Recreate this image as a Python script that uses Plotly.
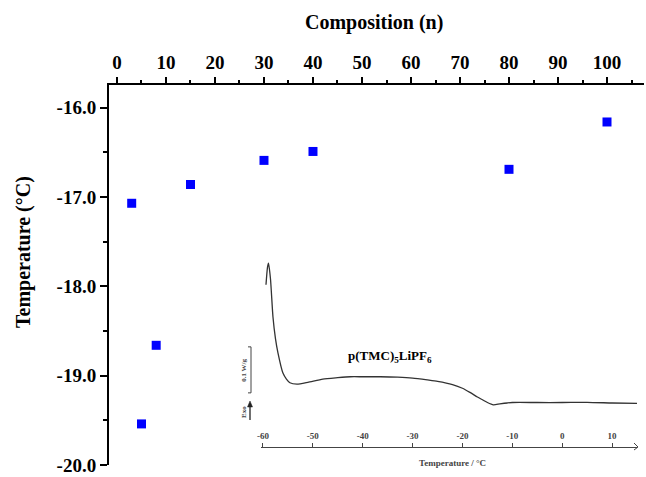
import plotly.graph_objects as go

# Glass transition temperature versus composition n of p(TMC)nLiPF6
composition_n = [3, 5, 8, 15, 30, 40, 80, 100]
tg_celsius = [-17.07, -19.54, -18.66, -16.86, -16.59, -16.49, -16.69, -16.16]

x_ticks = list(range(0, 101, 10))
y_ticks = [-16.0, -17.0, -18.0, -19.0, -20.0]

# DSC trace of p(TMC)5LiPF6 (inset): temperature in deg C, heat flow in W/g
dsc_temp = [-59.4, -59.1, -58.9, -58.5, -58.0, -57.5, -57.0, -56.0, -55.3, -54.6,
            -53.2, -51.0, -48.0, -45.0, -42.5, -40.0, -36.5, -33.0, -30.0, -27.0,
            -25.0, -22.0, -20.0, -18.5, -17.0, -16.0, -15.0, -13.8, -12.5, -11.0,
            -10.0, -5.0, 0.0, 5.0, 10.0, 15.0]
dsc_heat_flow = [0.257, 0.295, 0.304, 0.270, 0.187, 0.140, 0.109, 0.065, 0.052, 0.044,
                 0.041, 0.045, 0.052, 0.055, 0.057, 0.057, 0.057, 0.056, 0.054, 0.050,
                 0.047, 0.040, 0.032, 0.023, 0.013, 0.007, 0.001, -0.004, -0.002, 0.000,
                 0.001, 0.001, 0.001, 0.0015, 0.000, -0.001]
dsc_ticks = list(range(-60, 11, 10))
scale_bar_base = 0.022
scale_bar_span = 0.1

W, H = 646, 477


def fx(p):
    return p / W


def fy(p):
    return 1 - p / H


SERIF = "Liberation Serif, Times New Roman, serif"

fig = go.Figure()

fig.add_trace(go.Scatter(
    x=composition_n, y=tg_celsius, mode="markers",
    marker=dict(symbol="square", size=9, color="#0000ff", line=dict(width=0)),
    xaxis="x", yaxis="y", showlegend=False,
))

fig.add_trace(go.Scatter(
    x=dsc_temp, y=dsc_heat_flow, mode="lines",
    line=dict(color="#333333", width=1.3, shape="spline", smoothing=0.6),
    xaxis="x2", yaxis="y2", showlegend=False,
))

axis_font = dict(family=SERIF, size=19, color="black")

fig.update_layout(
    template="none",
    width=W, height=H,
    margin=dict(l=0, r=0, t=0, b=0, pad=0, autoexpand=False),
    paper_bgcolor="white", plot_bgcolor="rgba(0,0,0,0)",
    font=dict(family=SERIF),
    showlegend=False,
    xaxis=dict(
        domain=[fx(109), fx(644)], range=[-1.63, 107.55], side="top",
        anchor="y", showgrid=False, zeroline=False, automargin=False,
        showline=True, linecolor="black", linewidth=2,
        ticks="outside", ticklen=6, tickwidth=2, tickcolor="black",
        tickvals=x_ticks, ticktext=[f"<b>{v}</b>" for v in x_ticks],
        tickfont=axis_font,
        minor=dict(dtick=5, tick0=0, ticks="outside", ticklen=3, tickwidth=2,
                   tickcolor="black", showgrid=False),
    ),
    yaxis=dict(
        domain=[fy(465), fy(85)], range=[-20.0, -15.746],
        anchor="x", showgrid=False, zeroline=False, automargin=False,
        showline=True, linecolor="black", linewidth=2,
        ticks="outside", ticklen=7, tickwidth=2, tickcolor="black",
        tickvals=y_ticks, ticktext=[f"<b>{v:.1f}</b>" for v in y_ticks],
        tickfont=axis_font,
        minor=dict(dtick=0.5, tick0=-20, ticks="outside", ticklen=4, tickwidth=2,
                   tickcolor="black", showgrid=False),
    ),
    xaxis2=dict(
        domain=[fx(261), fx(637)], range=[-60.4, 15.0],
        anchor="free", position=fy(447), side="top",
        showgrid=False, zeroline=False, automargin=False,
        showline=True, linecolor="#444444", linewidth=1.2,
        ticks="outside", ticklen=4, tickwidth=1, tickcolor="#444444",
        tickvals=dsc_ticks, ticktext=[f"<b>{v}</b>" for v in dsc_ticks],
        tickfont=dict(family=SERIF, size=9, color="#444444"),
    ),
    yaxis2=dict(
        domain=[fy(447), fy(255)], range=[-0.0957, 0.3217],
        anchor="x2", visible=False, showgrid=False, zeroline=False, automargin=False,
    ),
)

annotations = [
    dict(text="<b>Composition (n)</b>", x=fx(374), y=fy(22), xref="paper", yref="paper",
         showarrow=False, font=dict(family=SERIF, size=20, color="black"),
         xanchor="center", yanchor="middle"),
    dict(text="<b>Temperature (°C)</b>", x=fx(23), y=fy(252), xref="paper", yref="paper",
         showarrow=False, textangle=-90, font=dict(family=SERIF, size=20, color="black"),
         xanchor="center", yanchor="middle"),
    dict(text="<b>Temperature / °C</b>", x=fx(452), y=fy(463), xref="paper", yref="paper",
         showarrow=False, font=dict(family=SERIF, size=9, color="#444444"),
         xanchor="center", yanchor="middle"),
    dict(text="<b>p(TMC)<sub>5</sub>LiPF<sub>6</sub></b>", x=fx(390), y=fy(356),
         xref="paper", yref="paper", showarrow=False,
         font=dict(family=SERIF, size=13, color="black"),
         xanchor="center", yanchor="middle"),
    dict(text="<b>0.1 W/g</b>", x=fx(244), y=scale_bar_base + scale_bar_span / 2,
         xref="paper", yref="y2", showarrow=False, textangle=-90,
         font=dict(family=SERIF, size=7, color="#444444"),
         xanchor="center", yanchor="middle"),
    dict(text="<b>Exo</b>", x=fx(244), y=fy(412), xref="paper", yref="paper",
         showarrow=False, textangle=-90,
         font=dict(family=SERIF, size=7, color="#444444"),
         xanchor="center", yanchor="middle"),
]
fig.update_layout(annotations=annotations)

bar_color = "#444444"
shapes = [
    # 0.1 W/g scale bar for the inset trace
    dict(type="line", xref="paper", yref="y2", x0=fx(251), x1=fx(251),
         y0=scale_bar_base, y1=scale_bar_base + scale_bar_span,
         line=dict(color=bar_color, width=1)),
    dict(type="line", xref="paper", yref="y2", x0=fx(248), x1=fx(251),
         y0=scale_bar_base, y1=scale_bar_base, line=dict(color=bar_color, width=1)),
    dict(type="line", xref="paper", yref="y2", x0=fx(248), x1=fx(251),
         y0=scale_bar_base + scale_bar_span, y1=scale_bar_base + scale_bar_span,
         line=dict(color=bar_color, width=1)),
    # exotherm direction arrow
    dict(type="line", xref="paper", yref="paper", x0=fx(250), x1=fx(250),
         y0=fy(420), y1=fy(406), line=dict(color="#222222", width=1.3)),
    dict(type="path", xref="paper", yref="paper",
         path=f"M {fx(247.5)},{fy(407)} L {fx(250)},{fy(401)} L {fx(252.5)},{fy(407)} Z",
         fillcolor="#222222", line=dict(color="#222222", width=0.5)),
    # open end of the inset temperature axis
    dict(type="path", xref="paper", yref="paper",
         path=f"M {fx(634)},{fy(443)} L {fx(638)},{fy(447)} L {fx(634)},{fy(450)}",
         line=dict(color=bar_color, width=1)),
]
fig.update_layout(shapes=shapes)

fig.write_html("out.html")
